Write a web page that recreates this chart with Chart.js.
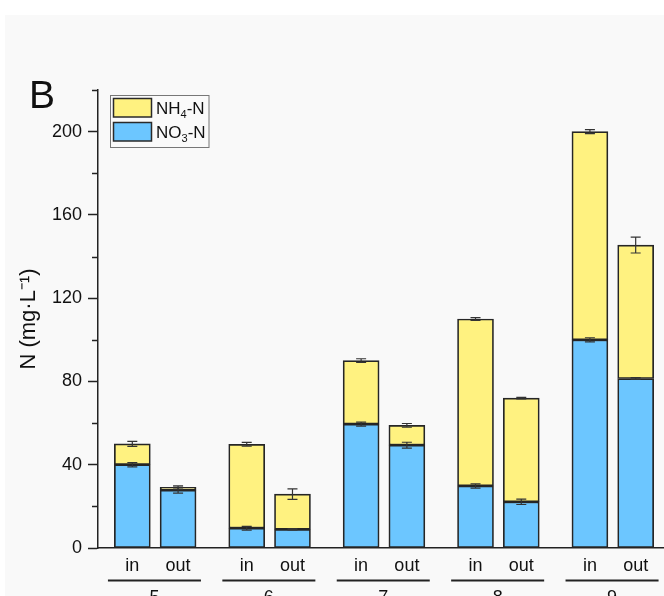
<!DOCTYPE html>
<html><head><meta charset="utf-8">
<script src="https://cdn.jsdelivr.net/npm/chart.js@4.4.1/dist/chart.umd.min.js"></script>
<style>
html,body{margin:0;padding:0;overflow:hidden;background:#fff;width:664px;height:596px}
#wrap{position:absolute;left:0;top:0;width:700px;height:596px}
</style></head><body>
<div id="wrap"><canvas id="c"></canvas></div>
<script>
const groups = ['5','6','7','8','9'];
const stages = ['in','out'];
const no3 = [40, 27.8, 9.5, 9.0, 59.5, 49.4, 29.8, 22.2, 100, 81.4];
const nh4 = [10, 1.3, 40.3, 16.9, 30.5, 9.5, 80.2, 49.8, 100, 64.1];
const no3Err = [1.0, 1.4, 0.9, 0.3, 1.0, 1.4, 1.0, 1.3, 1.0, 0.4];
const totalErr = [1.2, 0.8, 0.9, 2.5, 0.9, 0.9, 0.7, 0.4, 1.0, 3.8];
const yTicks = [0, 40, 80, 120, 160, 200];
const seriesNames = ['NO₃-N', 'NH₄-N'];
const panelLabel = 'B';
const yTitle = 'N (mg·L⁻¹)';

const FONT = "'Liberation Sans', Arial, sans-serif";
const SLOTS = 5; // spacer, in, spacer, out, spacer
const labels = [];
groups.forEach(() => labels.push('', stages[0], '', stages[1], ''));
function spread(vals) {
  const out = new Array(labels.length).fill(null);
  groups.forEach((g, gi) => stages.forEach((s, si) => { out[gi * SLOTS + 1 + si * 2] = vals[gi * stages.length + si]; }));
  return out;
}

const bgPlugin = {
  id: 'bg',
  beforeDraw(chart) {
    const c = chart.ctx;
    c.save();
    c.fillStyle = '#ffffff';
    c.fillRect(0, 0, chart.width, chart.height);
    c.fillStyle = '#f9f9f9';
    c.fillRect(5, 15, chart.width - 5, chart.height - 15);
    c.restore();
  }
};

const errPlugin = {
  id: 'errbars',
  afterDatasetsDraw(chart) {
    const c = chart.ctx, ys = chart.scales.y;
    c.save();
    c.strokeStyle = '#333';
    c.lineWidth = 1.2;
    chart.data.datasets.forEach((ds, di) => {
      const meta = chart.getDatasetMeta(di);
      meta.data.forEach((bar, i) => {
        const e = ds.errs[i];
        if (e == null || ds.data[i] == null) return;
        let total = 0;
        for (let k = 0; k <= di; k++) total += chart.data.datasets[k].data[i] || 0;
        const y1 = ys.getPixelForValue(total + e), y2 = ys.getPixelForValue(total - e);
        const x = bar.x;
        c.beginPath();
        c.moveTo(x, y1); c.lineTo(x, y2);
        c.moveTo(x - 5, y1); c.lineTo(x + 5, y1);
        c.moveTo(x - 5, y2); c.lineTo(x + 5, y2);
        c.stroke();
      });
    });
    c.restore();
  }
};

function drawSubText(c, text, x, y, size) {
  const subs = '₀₁₂₃₄₅₆₇₈₉';
  for (const ch of text) {
    const si = subs.indexOf(ch);
    if (si >= 0) {
      c.font = (size * 0.65) + 'px ' + FONT;
      c.fillText(String(si), x, y + size * 0.22);
      x += c.measureText(String(si)).width;
    } else {
      c.font = size + 'px ' + FONT;
      c.fillText(ch, x, y);
      x += c.measureText(ch).width;
    }
  }
}

const decoPlugin = {
  id: 'deco',
  afterDraw(chart) {
    const c = chart.ctx, xs = chart.scales.x, ys = chart.scales.y;
    c.save();
    // minor y ticks
    c.strokeStyle = '#222'; c.lineWidth = 1.5;
    ys.ticks.forEach(t => {
      if (yTicks.includes(t.value)) return;
      const py = Math.round(ys.getPixelForValue(t.value)) + 0.5;
      c.beginPath(); c.moveTo(ys.right - 6, py); c.lineTo(ys.right, py); c.stroke();
    });
    // group lines + labels
    c.lineWidth = 2;
    c.fillStyle = '#111';
    c.font = '18px ' + FONT;
    c.textAlign = 'center'; c.textBaseline = 'top';
    groups.forEach((g, gi) => {
      const a = xs.getPixelForValue(gi * SLOTS) - 1.5, b = xs.getPixelForValue(gi * SLOTS + 4);
      c.beginPath(); c.moveTo(a, 580.5); c.lineTo(b, 580.5); c.stroke();
      c.fillText(g, (a + b) / 2, 589);
    });
    // panel label
    c.textAlign = 'left'; c.textBaseline = 'alphabetic';
    c.font = '39px ' + FONT;
    c.fillText(panelLabel, 29, 108);
    // legend
    c.fillStyle = '#fafafa';
    c.fillRect(110.5, 95.5, 98.5, 52);
    c.strokeStyle = '#777'; c.lineWidth = 1;
    c.strokeRect(110.5, 95.5, 98.5, 52);
    const order = [1, 0];
    order.forEach((di, k) => {
      const ds = chart.data.datasets[di];
      const top = 98.5 + k * 24;
      c.fillStyle = ds.backgroundColor;
      c.fillRect(113.5, top, 38, 18.5);
      c.strokeStyle = '#2a2a2a'; c.lineWidth = 1.5;
      c.strokeRect(113.5, top, 38, 18.5);
      c.fillStyle = '#111';
      drawSubText(c, ds.label, 156, top + 15.5, 17);
    });
    c.restore();
  }
};

new Chart(document.getElementById('c'), {
  type: 'bar',
  data: {
    labels: labels,
    datasets: [
      { label: seriesNames[0], data: spread(no3), errs: spread(no3Err), backgroundColor: '#6CC6FF', borderColor: '#262626', borderWidth: 1.7, borderSkipped: false, barThickness: 36 },
      { label: seriesNames[1], data: spread(nh4), errs: spread(totalErr), backgroundColor: '#FFF280', borderColor: '#262626', borderWidth: 1.7, borderSkipped: false, barThickness: 36 }
    ]
  },
  options: {
    responsive: true,
    maintainAspectRatio: false,
    animation: false,
    devicePixelRatio: 1,
    layout: { padding: { top: 90, right: 30, left: 0, bottom: 0 } },
    plugins: { legend: { display: false }, tooltip: { enabled: false } },
    scales: {
      x: {
        stacked: true,
        offset: true,
        grid: { display: false, drawTicks: false },
        border: { display: true, color: '#222', width: 1.5 },
        ticks: { autoSkip: false, maxRotation: 0, minRotation: 0, padding: 7, color: '#111', font: { family: FONT, size: 18 } },
        afterFit(s) { s.height = 48; }
      },
      y: {
        stacked: true,
        min: 0, max: 220,
        grid: {
          drawOnChartArea: false, drawTicks: true, tickLength: 10, tickWidth: 1.5,
          tickColor: ctx => (ctx.tick && yTicks.includes(ctx.tick.value)) ? '#222' : 'rgba(0,0,0,0)'
        },
        border: { display: true, color: '#222', width: 1.5 },
        ticks: { stepSize: 20, padding: 6, color: '#111', font: { family: FONT, size: 18 },
          callback: v => yTicks.includes(v) ? String(v) : '' },
        title: { display: true, text: yTitle, color: '#111', font: { family: FONT, size: 22 }, padding: { top: 16, bottom: 0 } },
        afterFit(s) { s.width = 98; }
      }
    }
  },
  plugins: [bgPlugin, errPlugin, decoPlugin]
});
</script>
</body></html>
